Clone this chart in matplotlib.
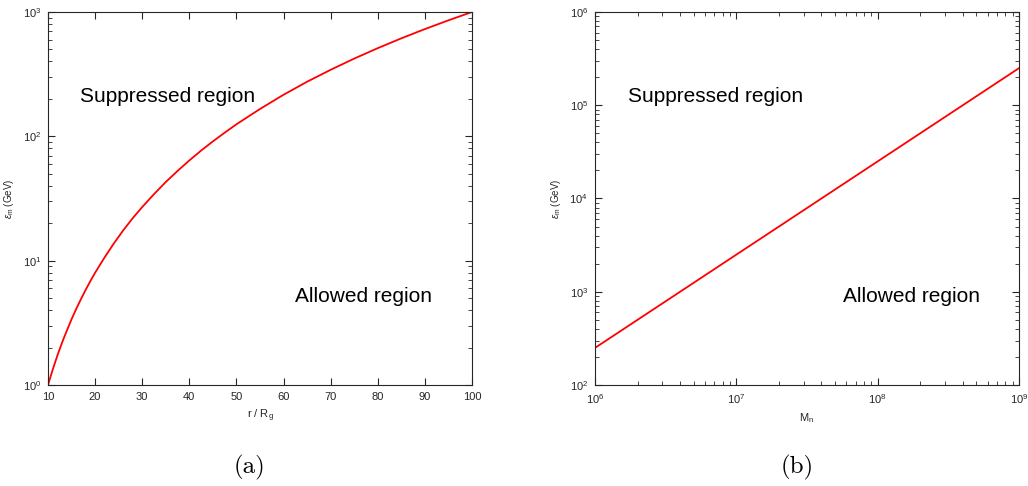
import matplotlib
matplotlib.use("Agg")
import matplotlib.pyplot as plt
from matplotlib.ticker import LogLocator, NullFormatter, NullLocator, FixedLocator

plt.rcParams['font.family'] = ['Liberation Sans', 'DejaVu Sans']
plt.rcParams['mathtext.fontset'] = 'custom'
plt.rcParams['mathtext.rm'] = 'Liberation Sans'
plt.rcParams['mathtext.it'] = 'Liberation Sans:italic'

# panel (a): eps_m vs r/R_g
r_vals = [10, 11, 12, 13, 14, 15, 16, 17, 18, 19, 20, 22, 24, 26, 28, 30,
          32.5, 35, 37.5, 40, 42.5, 45, 47.5, 50, 55, 60, 65, 70, 75, 80,
          85, 90, 95, 100]
eps_a = [1.0, 1.33, 1.73, 2.2, 2.74, 3.38, 4.1, 4.91, 5.83, 6.86, 8.0, 10.6,
         13.8, 17.6, 22.0, 27.0, 34.3, 42.9, 52.7, 64, 76.8, 91.1, 107, 125,
         166, 216, 275, 343, 422, 512, 614, 729, 857, 1000]

# panel (b): eps_m vs M_n
m_vals = [1e6, 1e9]
eps_b = [250, 2.5e5]

tick_col = '#262626'

fig = plt.figure(figsize=(10.28, 4.86), dpi=100)
ax1 = fig.add_axes([48/1028, 1-385/486, 424/1028, 373/486])
ax2 = fig.add_axes([595/1028, 1-385/486, 424/1028, 373/486])

ax1.plot(r_vals, eps_a, color='#ff0000', lw=1.3)
ax1.set_yscale('log')
ax1.set_xlim(10, 100)
ax1.set_ylim(1, 1000)
ax1.xaxis.set_major_locator(FixedLocator(range(10, 101, 10)))
ax1.xaxis.set_minor_locator(NullLocator())
ax1.set_xlabel(r'r / R$_{\rm g}$', fontsize=8, color=tick_col, labelpad=4)
ax1.set_ylabel(r'$\epsilon_{\rm m}$ (GeV)', fontsize=7, color=tick_col, labelpad=5)

ax2.plot(m_vals, eps_b, color='#ff0000', lw=1.3)
ax2.set_xscale('log')
ax2.set_yscale('log')
ax2.set_xlim(1e6, 1e9)
ax2.set_ylim(1e2, 1e6)
ax2.xaxis.set_minor_locator(LogLocator(base=10, subs=range(2, 10)))
ax2.xaxis.set_minor_formatter(NullFormatter())
ax2.set_xlabel(r'M$_{\rm n}$', fontsize=8, color=tick_col, labelpad=4)
ax2.set_ylabel(r'$\epsilon_{\rm m}$ (GeV)', fontsize=7, color=tick_col, labelpad=5)

for ax in (ax1, ax2):
    ax.tick_params(which='both', direction='in', top=True, right=True,
                   labelsize=8, colors=tick_col, pad=5)
    ax.tick_params(which='major', length=5, width=0.8)
    ax.tick_params(which='minor', length=3, width=0.6)
    for s in ax.spines.values():
        s.set_color(tick_col)
        s.set_linewidth(0.8)
    ax.yaxis.set_minor_locator(LogLocator(base=10, subs=range(2, 10)))
    ax.yaxis.set_minor_formatter(NullFormatter())

# region labels
fig.text(80/1028, 1-96/486, 'Suppressed region', fontsize=15, va='center', ha='left')
fig.text(295/1028, 1-296/486, 'Allowed region', fontsize=15, va='center', ha='left')
fig.text(628/1028, 1-96/486, 'Suppressed region', fontsize=15, va='center', ha='left')
fig.text(843/1028, 1-296/486, 'Allowed region', fontsize=15, va='center', ha='left')

fig.text(250/1028, 1-467/486, '(a)', fontsize=18, family='cmr10', ha='center', va='center')
fig.text(797/1028, 1-467/486, '(b)', fontsize=18, family='cmr10', ha='center', va='center')

fig.savefig('out.png', dpi=100)
